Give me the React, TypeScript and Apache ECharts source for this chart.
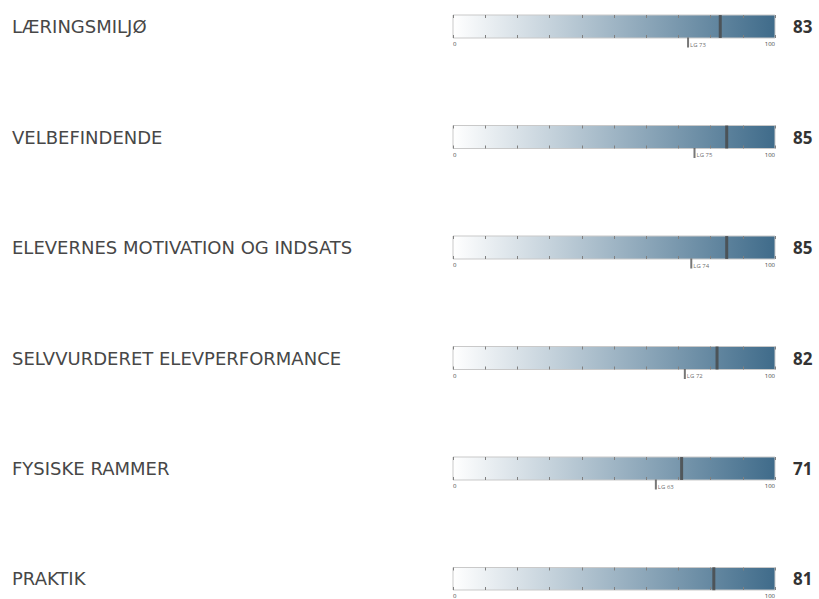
import React, { useEffect, useRef } from "react";
import * as echarts from "echarts";

const categories = [
  "LÆRINGSMILJØ",
  "VELBEFINDENDE",
  "ELEVERNES MOTIVATION OG INDSATS",
  "SELVVURDERET ELEVPERFORMANCE",
  "FYSISKE RAMMER",
  "PRAKTIK",
];
const scores = [83, 85, 85, 82, 71, 81];
const lgValues: (number | null)[] = [73, 75, 74, 72, 63, null];
const scaleMin = 0;
const scaleMax = 100;
const tickStep = 10;

export default function App() {
  const ref = useRef<HTMLDivElement>(null);
  useEffect(() => {
    if (!ref.current) return;
    const chart = echarts.init(ref.current, undefined, { renderer: "svg" });
    const gridLeft = 453;
    const gridWidth = 322;
    const firstTop = 15;
    const rowStep = 110.5;
    const barH = 23;
    const grids: any[] = [];
    const xAxes: any[] = [];
    const yAxes: any[] = [];
    const series: any[] = [];
    categories.forEach((cat, i) => {
      grids.push({
        left: gridLeft,
        width: gridWidth,
        top: firstTop + i * rowStep,
        height: barH,
        show: true,
        borderColor: "#c9c9c9",
        borderWidth: 1,
        backgroundColor: new echarts.graphic.LinearGradient(0, 0, 1, 0, [
          { offset: 0, color: "#ffffff" },
          { offset: 1, color: "#3f6b8a" },
        ]),
      });
      xAxes.push({
        gridIndex: i,
        type: "value",
        position: "bottom",
        min: scaleMin,
        max: scaleMax,
        interval: tickStep,
        axisLine: { show: false },
        splitLine: { show: false },
        axisTick: { show: true, inside: true, length: 3, lineStyle: { color: "#808080", width: 1 } },
        axisLabel: {
          show: true,
          margin: 3,
          fontSize: 6,
          color: "#444",
          fontFamily: "Open Sans",
          alignMinLabel: "left",
          alignMaxLabel: "right",
          formatter: (v: number) => (v === scaleMin || v === scaleMax ? String(v) : ""),
        },
      });
      xAxes.push({
        gridIndex: i,
        type: "value",
        position: "top",
        min: scaleMin,
        max: scaleMax,
        interval: tickStep,
        axisLine: { show: false },
        splitLine: { show: false },
        axisTick: { show: true, inside: true, length: 3, lineStyle: { color: "#808080", width: 1 } },
        axisLabel: { show: false },
      });
      yAxes.push({
        gridIndex: i,
        type: "category",
        position: "left",
        data: [cat],
        axisLine: { show: false },
        axisTick: { show: false },
        splitLine: { show: false },
        axisLabel: {
          margin: gridLeft - 12,
          align: "left",
          verticalAlign: "middle",
          padding: [6, 0, 0, 0],
          fontSize: 18,
          color: "#474747",
          fontFamily: "DejaVu Sans",
        },
      });
      yAxes.push({
        gridIndex: i,
        type: "category",
        position: "right",
        data: [String(scores[i])],
        axisLine: { show: false },
        axisTick: { show: false },
        splitLine: { show: false },
        axisLabel: {
          margin: 18,
          align: "left",
          verticalAlign: "middle",
          padding: [5, 0, 0, 0],
          fontSize: 17,
          fontWeight: "bold",
          color: "#333333",
          fontFamily: "Open Sans",
        },
      });
      series.push({
        type: "scatter",
        name: "score-" + i,
        xAxisIndex: i * 2,
        yAxisIndex: i * 2,
        clip: false,
        symbol: "rect",
        symbolSize: [3, barH],
        itemStyle: { color: "#474747" },
        data: [[scores[i], 0]],
        z: 5,
      });
      const lg = lgValues[i];
      if (lg !== null) {
        series.push({
          type: "scatter",
          name: "lg-" + i,
          xAxisIndex: i * 2,
          yAxisIndex: i * 2,
          clip: false,
          symbol: "rect",
          symbolSize: [2, 10],
          symbolOffset: [0, 16],
          itemStyle: { color: "#555555" },
          label: {
            show: true,
            position: "right",
            distance: 1,
            offset: [0, 2],
            fontSize: 6,
            color: "#444",
            fontFamily: "Open Sans",
            formatter: () => "LG " + lg,
          },
          data: [[lg, 0]],
          z: 5,
        });
      }
    });
    chart.setOption({
      animation: false,
      backgroundColor: "#ffffff",
      grid: grids,
      xAxis: xAxes,
      yAxis: yAxes,
      series,
    });
    return () => chart.dispose();
  }, []);
  return (
    <div
      ref={ref}
      style={{ position: "fixed", left: 0, top: 0, width: 819, height: 599 }}
    />
  );
}
